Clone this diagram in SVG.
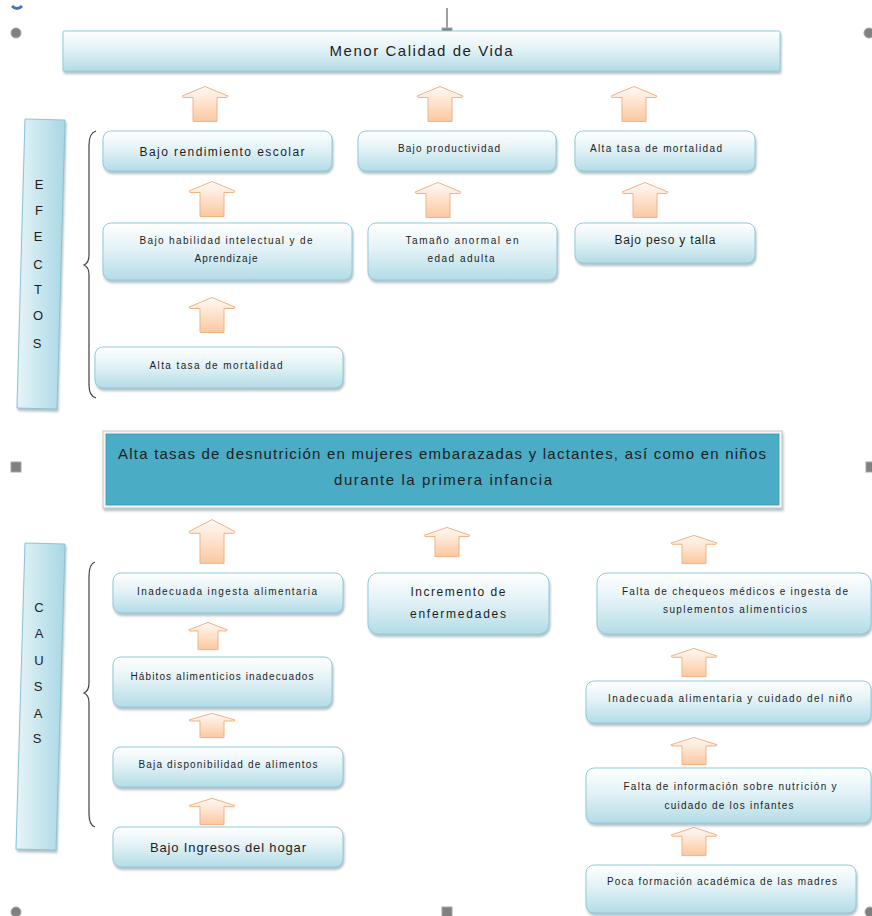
<svg xmlns="http://www.w3.org/2000/svg" xmlns:xlink="http://www.w3.org/1999/xlink" width="872" height="916" viewBox="0 0 872 916">
<style>
  .box { fill: url(#boxGrad); stroke: #93cbd9; stroke-width: 1; filter: url(#shadow); }
  .bar { fill: url(#barGrad); stroke: #8cc4d4; stroke-width: 1; filter: url(#shadow); }
  .t { font-family: "Liberation Sans", Arial, sans-serif; fill: #1e1e1e; text-anchor: middle; }
  .s10 { font-size: 10px; }
  .s12 { font-size: 12px; }
  .s13 { font-size: 13px; }
  .s15 { font-size: 15px; }
  .letter { font-family: "Liberation Sans", Arial, sans-serif; font-size: 13px; fill: #1e1e1e; text-anchor: middle; }
  .brace { fill: none; stroke: #404040; stroke-width: 1.2; }
  .handle { fill: #808080; stroke: #a6a6a6; stroke-width: 1; }
  .arrow { fill: url(#arrowGrad); stroke: #f4b183; stroke-width: 1; vector-effect: non-scaling-stroke; }
</style>
<defs>
  <linearGradient id="boxGrad" x1="0" y1="0" x2="0" y2="1">
    <stop offset="0" stop-color="#ffffff"/>
    <stop offset="0.45" stop-color="#e3f2f6"/>
    <stop offset="1" stop-color="#b3dce7"/>
  </linearGradient>
  <linearGradient id="barGrad" x1="0" y1="0" x2="1" y2="0">
    <stop offset="0" stop-color="#e6f4f8"/>
    <stop offset="1" stop-color="#a9d7e4"/>
  </linearGradient>
  <linearGradient id="arrowGrad" x1="0" y1="0" x2="0" y2="1">
    <stop offset="0" stop-color="#fffaf6"/>
    <stop offset="1" stop-color="#fbc8a0"/>
  </linearGradient>
  <filter id="shadow" x="-10%" y="-10%" width="120%" height="130%">
    <feDropShadow dx="1" dy="2.5" stdDeviation="1" flood-color="#6f8d96" flood-opacity="0.55"/>
  </filter>
  <symbol id="upArrow" viewBox="0 0 48 36" preserveAspectRatio="none" overflow="visible">
    <path class="arrow" d="M24,0.5 L47,10 L46,11.5 L36,11.5 L36,35.5 L12,35.5 L12,11.5 L2,11.5 L1,10 Z"/>
  </symbol>
</defs>

<!-- selection handles -->
<g id="handles">
  <path d="M12,6 Q17,11 22,6" fill="none" stroke="#4472c4" stroke-width="3"/>
  <line x1="447" y1="8" x2="447" y2="28" stroke="#808080" stroke-width="1.5"/>
  <circle class="handle" cx="16" cy="33" r="5"/>
  <rect class="handle" x="442" y="28" width="10" height="10"/>
  <circle class="handle" cx="869" cy="33" r="5"/>
  <rect class="handle" x="11" y="462" width="10" height="10"/>
  <rect class="handle" x="866" y="462" width="10" height="10"/>
  <circle class="handle" cx="16" cy="912" r="5"/>
  <rect class="handle" x="442" y="907" width="10" height="10"/>
  <circle class="handle" cx="870" cy="912" r="5"/>
</g>

<!-- connectors (block arrows) -->
<g id="connectors">
  <use href="#upArrow" x="181" y="86" width="48" height="36"/>
  <use href="#upArrow" x="416" y="86" width="48" height="36"/>
  <use href="#upArrow" x="610" y="86" width="48" height="36"/>
  <use href="#upArrow" x="188" y="181" width="48" height="36"/>
  <use href="#upArrow" x="414" y="182" width="48" height="36"/>
  <use href="#upArrow" x="621" y="182" width="48" height="36"/>
  <use href="#upArrow" x="188" y="297" width="48" height="36"/>
  <use href="#upArrow" x="188" y="519" width="48" height="45"/>
  <use href="#upArrow" x="188" y="622" width="40" height="28"/>
  <use href="#upArrow" x="188" y="713" width="48" height="25"/>
  <use href="#upArrow" x="188" y="798" width="48" height="27"/>
  <use href="#upArrow" x="423" y="527" width="48" height="30"/>
  <use href="#upArrow" x="670" y="535" width="48" height="29"/>
  <use href="#upArrow" x="670" y="648" width="48" height="29"/>
  <use href="#upArrow" x="670" y="737" width="48" height="28"/>
  <use href="#upArrow" x="670" y="827" width="48" height="29"/>
  <!-- braces -->
  <path class="brace" d="M96,131 Q89,133 89,145 L89,255 Q89,263 84,265 Q89,267 89,275 L89,385 Q89,396 96,398"/>
  <path class="brace" d="M95,562 Q89,564 89,576 L89,683 Q89,691 84,693 Q89,695 89,703 L89,814 Q89,825 95,827"/>
</g>

<g id="top">
  <rect class="box" x="63" y="31" width="717" height="40" rx="1"/>
  <text class="t s15" x="421" y="56" textLength="183" lengthAdjust="spacing">Menor Calidad de Vida</text>
</g>

<g id="efectos">
  <polygon class="bar" points="25,119 65,120 57,409 17,408"/>
  <text class="letter" x="39" y="189">E</text>
  <text class="letter" x="39" y="215">F</text>
  <text class="letter" x="38" y="241">E</text>
  <text class="letter" x="38" y="269">C</text>
  <text class="letter" x="38" y="294">T</text>
  <text class="letter" x="38" y="320">O</text>
  <text class="letter" x="37" y="348">S</text>
</g>

<g id="e1">
  <rect class="box" x="103" y="131" width="229" height="40" rx="8"/>
  <text class="t s12" x="222" y="156" textLength="165" lengthAdjust="spacing">Bajo rendimiento escolar</text>
</g>
<g id="e2">
  <rect class="box" x="358" y="131" width="198" height="40" rx="8"/>
  <text class="t s10" x="449" y="152" textLength="102" lengthAdjust="spacing">Bajo productividad</text>
</g>
<g id="e3">
  <rect class="box" x="575" y="131" width="180" height="40" rx="8"/>
  <text class="t s10" x="656" y="152" textLength="132" lengthAdjust="spacing">Alta tasa de mortalidad</text>
</g>
<g id="e4">
  <rect class="box" x="103" y="223" width="249" height="57" rx="8"/>
  <text class="t s10" x="226" y="244" textLength="173" lengthAdjust="spacing">Bajo habilidad intelectual y de</text>
  <text class="t s10" x="226" y="262" textLength="63" lengthAdjust="spacing">Aprendizaje</text>
</g>
<g id="e5">
  <rect class="box" x="368" y="223" width="189" height="57" rx="8"/>
  <text class="t s10" x="462" y="244" textLength="113" lengthAdjust="spacing">Tamaño anormal en</text>
  <text class="t s10" x="461" y="262" textLength="67" lengthAdjust="spacing">edad adulta</text>
</g>
<g id="e6">
  <rect class="box" x="575" y="223" width="180" height="40" rx="8"/>
  <text class="t s12" x="665" y="244" textLength="101" lengthAdjust="spacing">Bajo peso y talla</text>
</g>
<g id="e7">
  <rect class="box" x="95" y="347" width="248" height="41" rx="8"/>
  <text class="t s10" x="216" y="369" textLength="133" lengthAdjust="spacing">Alta tasa de mortalidad</text>
</g>

<g id="problema">
  <rect x="103" y="431" width="679" height="77" fill="#f4f4f4" stroke="#c8c8c8" stroke-width="1" filter="url(#shadow)"/>
  <rect x="106" y="434" width="673" height="71" fill="#4bacc6" stroke="#3f97ae" stroke-width="0.8"/>
  <text class="t s15" x="442" y="459" textLength="648" lengthAdjust="spacing">Alta tasas de desnutrición en mujeres embarazadas y lactantes, así como en niños</text>
  <text class="t s15" x="443" y="485" textLength="218" lengthAdjust="spacing">durante la primera infancia</text>
</g>

<g id="causas">
  <polygon class="bar" points="25,543 65,544 56,850 16,849"/>
  <text class="letter" x="39" y="612">C</text>
  <text class="letter" x="39" y="638">A</text>
  <text class="letter" x="39" y="665">U</text>
  <text class="letter" x="38" y="691">S</text>
  <text class="letter" x="38" y="718">A</text>
  <text class="letter" x="37" y="743">S</text>
</g>

<g id="c1">
  <rect class="box" x="113" y="573" width="230" height="40" rx="8"/>
  <text class="t s10" x="227" y="595" textLength="180" lengthAdjust="spacing">Inadecuada ingesta  alimentaria</text>
</g>
<g id="c2">
  <rect class="box" x="113" y="657" width="219" height="50" rx="8"/>
  <text class="t s10" x="222" y="680" textLength="183" lengthAdjust="spacing">Hábitos alimenticios inadecuados</text>
</g>
<g id="c3">
  <rect class="box" x="113" y="747" width="230" height="40" rx="8"/>
  <text class="t s10" x="228" y="768" textLength="179" lengthAdjust="spacing">Baja disponibilidad de alimentos</text>
</g>
<g id="c4">
  <rect class="box" x="113" y="827" width="230" height="40" rx="8"/>
  <text class="t s13" x="228" y="852" textLength="156" lengthAdjust="spacing">Bajo  Ingresos del hogar</text>
</g>
<g id="c5">
  <rect class="box" x="368" y="573" width="181" height="61" rx="10"/>
  <text class="t s12" x="458" y="596" textLength="95" lengthAdjust="spacing">Incremento de</text>
  <text class="t s12" x="458" y="618" textLength="96" lengthAdjust="spacing">enfermedades</text>
</g>
<g id="c6">
  <rect class="box" x="597" y="573" width="274" height="61" rx="10"/>
  <text class="t s10" x="735" y="595" textLength="226" lengthAdjust="spacing">Falta de chequeos médicos e ingesta de</text>
  <text class="t s10" x="735" y="613" textLength="144" lengthAdjust="spacing">suplementos alimenticios</text>
</g>
<g id="c7">
  <rect class="box" x="586" y="681" width="285" height="42" rx="8"/>
  <text class="t s10" x="730" y="702" textLength="244" lengthAdjust="spacing">Inadecuada  alimentaria y cuidado del niño</text>
</g>
<g id="c8">
  <rect class="box" x="586" y="768" width="285" height="55" rx="8"/>
  <text class="t s10" x="730" y="790" textLength="213" lengthAdjust="spacing">Falta de información sobre nutrición y</text>
  <text class="t s10" x="729" y="809" textLength="129" lengthAdjust="spacing">cuidado de los infantes</text>
</g>
<g id="c9">
  <rect class="box" x="586" y="865" width="270" height="48" rx="8"/>
  <text class="t s10" x="722" y="885" textLength="230" lengthAdjust="spacing">Poca formación académica de las madres</text>
</g>
</svg>
